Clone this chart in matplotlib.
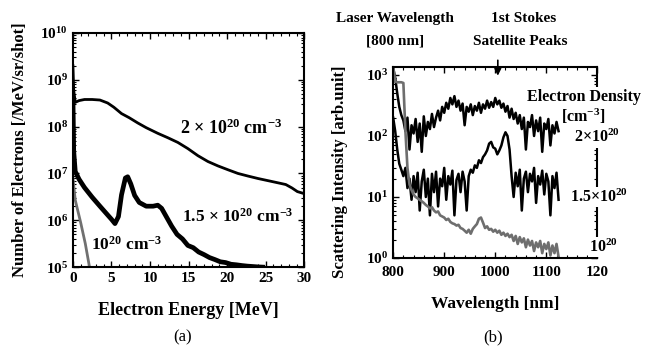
import math
import matplotlib
matplotlib.use("Agg")
import matplotlib.pyplot as plt
from matplotlib.ticker import FuncFormatter, LogLocator, MultipleLocator, NullFormatter

plt.rcParams['font.family'] = 'Liberation Serif'
plt.rcParams['font.weight'] = 'bold'
plt.rcParams['axes.labelweight'] = 'bold'
plt.rcParams['mathtext.fontset'] = 'custom'
plt.rcParams['mathtext.rm'] = 'Liberation Serif:bold'
plt.rcParams['mathtext.bf'] = 'Liberation Serif:bold'
plt.rcParams['mathtext.it'] = 'Liberation Serif:bold:italic'

# (a) electron spectra, energy in MeV, electrons /MeV/sr/shot
e_2e20 = [0.0, 0.1, 0.3, 0.8, 1.5, 2.5, 3.5, 4.5, 5.3, 6.3, 7.3, 8.4, 9.5, 11.0, 12.3,
          13.6, 14.9, 16.2, 17.5, 18.8, 20.1, 21.4, 22.7, 24.0, 25.5, 27.0, 27.6, 28.4,
          29.1, 30.0]
n_2e20 = [2.0e9, 6.0e8, 3.3e8, 3.6e8, 3.8e8, 3.8e8, 3.7e8, 3.2e8, 2.6e8, 1.9e8, 1.55e8,
          1.2e8, 9.5e7, 7.2e7, 5.8e7, 4.6e7, 3.4e7, 2.4e7, 1.8e7, 1.45e7, 1.2e7, 1.0e7,
          8.8e6, 7.8e6, 6.9e6, 6.1e6, 5.8e6, 4.9e6, 4.1e6, 3.7e6]

e_15e20 = [0.0, 0.1, 0.3, 0.8, 1.5, 2.5, 3.5, 4.5, 5.0, 5.45, 5.9, 6.3, 6.8, 7.1, 7.5,
           8.0, 8.6, 9.5, 10.4, 11.0, 11.5, 12.1, 12.8, 13.5, 14.2, 14.9, 15.6, 16.3,
           17.0, 17.7, 18.4, 19.1, 19.8, 20.5, 21.2, 21.9, 22.6, 23.3, 24.0, 24.6]
n_15e20 = [4.0e8, 3.0e7, 1.1e7, 7.5e6, 5.0e6, 3.1e6, 2.0e6, 1.3e6, 1.05e6, 8.5e5, 1.2e6,
           3.5e6, 8.0e6, 8.5e6, 6.0e6, 3.4e6, 2.4e6, 2.0e6, 2.0e6, 2.1e6, 1.8e6, 1.2e6,
           7.5e5, 5.0e5, 4.0e5, 2.9e5, 2.6e5, 2.1e5, 1.85e5, 1.6e5, 1.45e5, 1.3e5,
           1.25e5, 1.15e5, 1.12e5, 1.08e5, 1.05e5, 1.03e5, 1.01e5, 1.0e5]

e_1e20 = [0.0, 0.3, 1.0, 1.6, 2.2]
n_1e20 = [8.0e6, 2.7e6, 9.0e5, 3.2e5, 9.0e4]

# (b) scattered spectra, wavelength in nm
wl = [800, 804, 808, 812, 816, 820, 824, 828, 832, 836, 840, 844, 848, 852, 856, 860,
      864, 868, 872, 876, 880, 884, 888, 892, 896, 900, 904, 908, 912, 916, 920, 924,
      928, 932, 936, 940, 944, 948, 952, 956, 960, 964, 968, 972, 976, 980, 984, 988,
      992, 996, 1000, 1004, 1008, 1012, 1016, 1020, 1024, 1028, 1032, 1036, 1040, 1044,
      1048, 1052, 1056, 1060, 1064, 1068, 1072, 1076, 1080, 1084, 1088, 1092, 1096,
      1100, 1104, 1108, 1112, 1116, 1120, 1124]
s_2e20 = [1300, 900, 500, 300, 220, 180, 120, 200, 60, 150, 110, 190, 80, 160, 55, 210,
          100, 170, 130, 230, 140, 200, 260, 180, 300, 240, 350, 280, 420, 330, 450, 300,
          380, 260, 340, 150, 300, 250, 330, 220, 310, 260, 350, 240, 330, 280, 380, 290,
          360, 300, 420, 330, 380, 290, 340, 250, 310, 200, 280, 190, 240, 160, 220, 130,
          200, 60, 170, 140, 220, 100, 180, 120, 200, 55, 160, 130, 190, 70, 150, 110,
          170, 120]
s_15e20 = [200, 120, 60, 35, 28, 22, 30, 14, 20, 9, 22, 12, 25, 6, 18, 28, 10, 20, 5, 24,
           12, 26, 7, 20, 15, 30, 9, 22, 16, 27, 5, 19, 24, 12, 26, 18, 6, 22, 28, 25, 33,
           30, 40, 36, 45, 50, 58, 75, 80, 65, 62, 50, 58, 70, 95, 115, 100, 60, 22, 10, 25,
           15, 28, 6, 20, 26, 12, 24, 18, 30, 8, 22, 16, 27, 11, 24, 18, 5, 22, 14, 25, 9]
s_1e20 = [1400, 780, 760, 760, 760, 740, 120, 30, 16, 13, 11, 10, 9.5, 9, 8.5, 8, 7.4, 7,
          6.5, 6.8, 6, 5.6, 5.8, 5, 4.8, 4.6, 4.2, 4.4, 3.9, 3.7, 3.6, 3.4, 3.5, 3.1, 3.0,
          2.8, 2.6, 2.9, 2.5, 3.0, 3.3, 3.6, 4.4, 4.6, 3.8, 3.1, 3.3, 2.9, 3.0, 2.7, 2.9,
          2.6, 2.8, 2.4, 2.6, 2.3, 2.5, 2.2, 2.4, 1.9, 2.3, 1.7, 2.2, 1.8, 2.1, 1.5, 2.0,
          1.6, 1.9, 1.3, 1.8, 1.5, 1.9, 1.2, 1.7, 1.4, 1.8, 1.1, 1.6, 1.2, 1.7, 1.05]

fig = plt.figure(figsize=(6.63, 3.51), dpi=100)
ax1 = fig.add_axes([0.110, 0.239, 0.349, 0.667])
ax2 = fig.add_axes([0.593, 0.265, 0.308, 0.544])


def pow_fmt(v, pos):
    return r'$\mathbf{10^{%d}}$' % round(math.log10(v))


for ax in (ax1, ax2):
    ax.set_yscale('log')
    ax.tick_params(which='both', direction='in', top=True, right=True, labelsize=11)
    ax.tick_params(which='major', length=4, width=1)
    ax.tick_params(which='minor', length=2, width=0.8)
    for sp in ax.spines.values():
        sp.set_linewidth(1.5)
    ax.yaxis.set_major_locator(LogLocator(base=10, numticks=10))
    ax.yaxis.set_minor_locator(LogLocator(base=10, subs=range(2, 10), numticks=10))
    ax.yaxis.set_major_formatter(FuncFormatter(pow_fmt))
    ax.yaxis.set_minor_formatter(NullFormatter())

# panel (a)
ax1.plot(e_1e20, n_1e20, color='#707070', lw=2)
ax1.plot(e_2e20, n_2e20, color='black', lw=2.0)
ax1.plot(e_15e20, n_15e20, color='black', lw=3.4)
ax1.set_xlim(0, 30)
ax1.set_ylim(1e5, 1e10)
ax1.xaxis.set_minor_locator(MultipleLocator(1))
ax1.set_xticks([0, 5, 10, 15, 20, 25, 30], ['0', '5', '10', '15', '20', '25', '30'],
               fontweight='bold')
ax1.set_xlabel('Electron Energy [MeV]', fontsize=13, labelpad=12)
ax1.set_ylabel('Number of Electrons [/MeV/sr/shot]', fontsize=12)
ax1.yaxis.set_label_coords(-0.195, 0.5)
ax1.text(13.9, 10 ** 7.97, r'2 $\times$ 10$^{20}$ cm$^{-3}$', fontsize=13, va='center')
ax1.text(14.1, 10 ** 6.07, r'1.5 $\times$ 10$^{20}$ cm$^{-3}$', fontsize=12.5, va='center')
ax1.text(2.4, 10 ** 5.47, r'10$^{20}$ cm$^{-3}$', fontsize=12.5, va='center')
fig.text(0.276, 0.04, '(a)', fontsize=12, fontweight='normal', ha='center', va='center')

# panel (b)
ax2.plot(wl, s_15e20, color='black', lw=1.8)
ax2.plot(wl, s_2e20, color='black', lw=1.8)
ax2.plot(wl, s_1e20, color='#6e6e6e', lw=1.9)
ax2.set_xlim(800, 1200)
ax2.set_ylim(1, 1350)
ax2.set_xticks([800, 900, 1000, 1100, 1200], ['800', '900', '1000', '1100', '120'],
               fontweight='bold')
ax2.xaxis.set_minor_locator(MultipleLocator(20))
ax2.tick_params(axis='x', which='major', pad=6)
ax2.set_xlabel('Wavelength [nm]', fontsize=12.5, labelpad=12)
ax2.set_ylabel('Scattering Intensity [arb.unit]', fontsize=12)
ax2.yaxis.set_label_coords(-0.22, 0.45)
ax2.annotate('', xy=(1005, 0.94), xytext=(1005, 1.05),
             xycoords=('data', 'axes fraction'), textcoords=('data', 'axes fraction'),
             arrowprops=dict(arrowstyle='-|>', color='black', lw=1.2, mutation_scale=10))

box = dict(facecolor='white', edgecolor='none', pad=1)
fig.text(0.596, 0.948, 'Laser Wavelength', fontsize=11, ha='center', va='center')
fig.text(0.596, 0.882, '[800 nm]', fontsize=11, ha='center', va='center')
fig.text(0.790, 0.948, '1st Stokes', fontsize=11, ha='center', va='center')
fig.text(0.784, 0.882, 'Satellite Peaks', fontsize=11, ha='center', va='center')
kw = dict(transform=ax2.transAxes, fontsize=11.5, va='center', clip_on=False,
          zorder=6, bbox=box)
ax2.text(0.657, 0.845, 'Electron Density', ha='left', **kw)
ax2.text(0.931, 0.740, r'[cm$^{-3}$]', ha='center', **kw)
ax2.text(1.0, 0.630, r'2$\times$10$^{20}$', ha='center', **kw)
ax2.text(1.01, 0.319, r'1.5$\times$10$^{20}$', ha='center', **kw)
ax2.text(1.03, 0.058, r'10$^{20}$', ha='center', **kw)
fig.text(0.744, 0.04, '(b)', fontsize=12, fontweight='normal', ha='center', va='center')

fig.savefig('out.png', dpi=100)
